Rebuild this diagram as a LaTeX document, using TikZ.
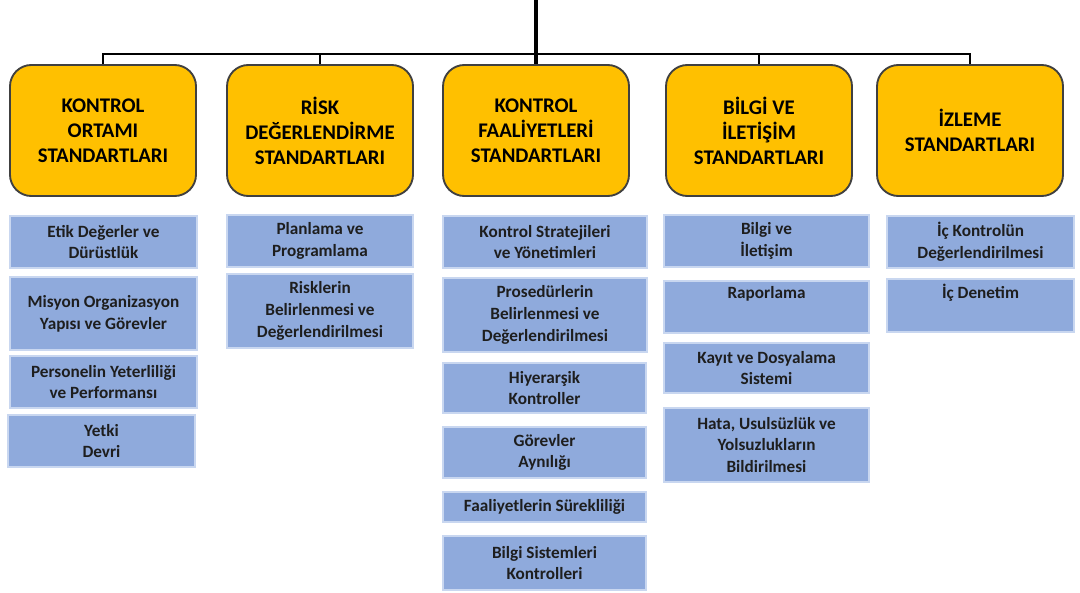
\documentclass[tikz,border=0pt]{standalone}
\usepackage{fontspec}
\setmainfont{Carlito}
\definecolor{ygold}{HTML}{FFC000}
\definecolor{yedge}{HTML}{404040}
\definecolor{bfill}{HTML}{8FAADC}
\definecolor{bedge}{HTML}{C9D7F0}
\definecolor{btext}{HTML}{1E1E1E}
\tikzset{
  yellowbox/.style={draw=yedge, line width=1.4pt, fill=ygold, rounded corners=16pt,
    inner sep=0pt, align=center, text=black,
    font=\fontsize{15.6pt}{18.75pt}\selectfont\bfseries},
  bluebox/.style={draw=bedge, line width=0.8pt, fill=bfill, inner sep=0pt,
    align=center, text=btext,
    font=\fontsize{12.9pt}{16.3pt}\selectfont\bfseries},
  busline/.style={line width=1.5pt, draw=black},
  mainline/.style={line width=2.3pt, draw=black}
}
\newcommand\mkY[6]{\node[yellowbox, minimum width={(#4-#2)*0.75pt}, minimum height={(#5-#3)*0.75pt}] (#1) at ({(#2+#4)/2},{(#3+#5)/2}) {#6};}
\newcommand\mkB[6]{\node[bluebox, minimum width={(#4-#2)*0.75pt}, minimum height={(#5-#3)*0.75pt}] (#1) at ({(#2+#4)/2},{(#3+#5)/2}) {#6};}
\begin{document}
\begin{tikzpicture}[x=0.75pt,y=-0.75pt]
\useasboundingbox (0,0) rectangle (1080,592);
% yellow boxes
\mkY{y1}{10}{65}{196}{196}{KONTROL\\ORTAMI\\STANDARTLARI}
\mkY{y2}{227}{65}{413}{196}{RİSK\\DEĞERLENDİRME\\STANDARTLARI}
\mkY{y3}{443}{65}{629}{196}{KONTROL\\FAALİYETLERİ\\STANDARTLARI}
\mkY{y4}{666}{65}{852}{196}{BİLGİ VE\\İLETİŞİM\\STANDARTLARI}
\mkY{y5}{877}{65}{1063}{196}{İZLEME\\STANDARTLARI}
% connectors
\coordinate (top) at (536,0);
\coordinate (bus) at (536,54);
\draw[mainline] (top) -- (y3.north);
\draw[busline] (y1.north) -- (y1.north |- bus) -- (y5.north |- bus) -- (y5.north);
\draw[busline] (y2.north) -- (y2.north |- bus);
\draw[busline] (y4.north) -- (y4.north |- bus);
% column 1
\mkB{a1}{10}{216}{197}{268}{Etik Değerler ve\\Dürüstlük}
\mkB{a2}{10}{277}{197}{350}{Misyon Organizasyon\\Yapısı ve Görevler}
\mkB{a3}{10}{356}{197}{408}{Personelin Yeterliliği\\ve Performansı}
\mkB{a4}{8}{415}{195}{467}{Yetki\\Devri}
% column 2
\mkB{b1}{227}{215}{413}{267}{Planlama ve\\Programlama}
\mkB{b2}{227}{274}{413}{348}{Risklerin\\Belirlenmesi ve\\Değerlendirilmesi}
% column 3
\mkB{c1}{443}{216}{647}{268}{Kontrol Stratejileri\\ve Yönetimleri}
\mkB{c2}{443}{278}{647}{352}{Prosedürlerin\\Belirlenmesi ve\\Değerlendirilmesi}
\mkB{c3}{443}{363}{646}{413}{Hiyerarşik\\Kontroller}
\mkB{c4}{443}{427}{646}{478}{Görevler\\Aynılığı}
\mkB{c5}{443}{492}{646}{522}{Faaliyetlerin Sürekliliği}
\mkB{c6}{443}{536}{646}{590}{Bilgi Sistemleri\\Kontrolleri}
% column 4
\mkB{d1}{664}{215}{869}{267}{Bilgi ve\\İletişim}
\mkB{d2}{664}{281}{869}{333}{Raporlama\\\strut}
\mkB{d3}{664}{343}{869}{393}{Kayıt ve Dosyalama\\Sistemi}
\mkB{d4}{664}{408}{869}{482}{Hata, Usulsüzlük ve\\Yolsuzlukların\\Bildirilmesi}
% column 5
\mkB{e1}{887}{216}{1074}{268}{İç Kontrolün\\Değerlendirilmesi}
\mkB{e2}{887}{279}{1074}{332}{İç Denetim\\\strut}
\end{tikzpicture}
\end{document}
